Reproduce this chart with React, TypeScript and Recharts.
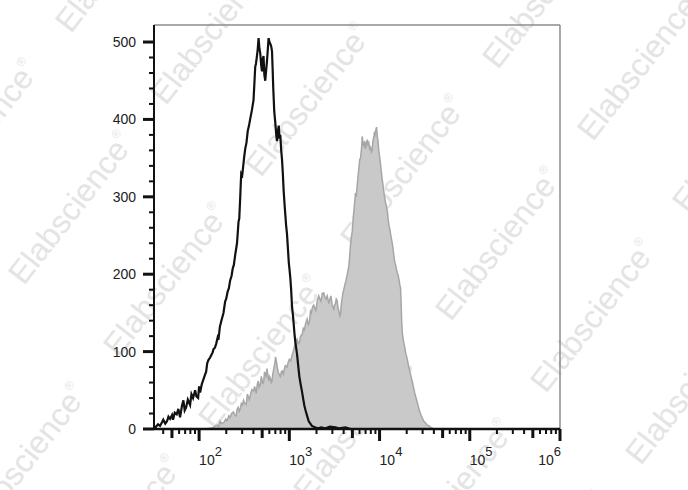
import React from 'react';
import { ComposedChart, Area, Line, XAxis, YAxis, ReferenceLine } from 'recharts';

// Isotype control (black outline): x = log10(fluorescence), y = count
const isotypeLog = [
  1.51, 1.522, 1.545, 1.567, 1.59, 1.603, 1.625, 1.644, 1.66, 1.678, 1.7, 1.711, 1.73, 1.752, 1.77, 1.789,
  1.81, 1.826, 1.84, 1.856, 1.875, 1.9, 1.915, 1.933, 1.956, 1.97, 1.989, 2.0, 2.011, 2.03, 2.048, 2.065,
  2.078, 2.09, 2.103, 2.12, 2.133, 2.15, 2.159, 2.175, 2.189, 2.205, 2.214, 2.23, 2.252, 2.27, 2.289, 2.3,
  2.317, 2.33, 2.344, 2.36, 2.372, 2.385, 2.4, 2.42, 2.437, 2.445, 2.456, 2.462, 2.467, 2.478, 2.489, 2.5,
  2.511, 2.525, 2.539, 2.553, 2.567, 2.585, 2.603, 2.612, 2.622, 2.63, 2.639, 2.649, 2.659, 2.668, 2.678,
  2.688, 2.697, 2.705, 2.714, 2.723, 2.733, 2.742, 2.752, 2.76, 2.77, 2.78, 2.789, 2.8, 2.808, 2.815, 2.822,
  2.833, 2.845, 2.855, 2.863, 2.873, 2.883, 2.892, 2.9, 2.91, 2.919, 2.928, 2.937, 2.946, 2.956, 2.965,
  2.974, 2.985, 2.994, 3.003, 3.011, 3.02, 3.03, 3.04, 3.048, 3.058, 3.067, 3.078, 3.086, 3.1, 3.111, 3.125,
  3.141, 3.155, 3.167, 3.18, 3.197, 3.215, 3.233, 3.25, 3.27, 3.29, 3.322, 3.35, 3.4, 3.45, 3.511, 3.55,
  3.622, 3.68, 3.789,
];
const isotypeCount = [
  0, 3, 6, 4, 9, 12, 7, 10, 16, 13, 18, 12, 21, 19, 26, 15,
  30, 37, 24, 28, 38, 31, 45, 40, 50, 42, 40, 55, 47, 58, 64, 70,
  74, 85, 89, 92, 95, 99, 103, 105, 110, 118, 115, 132, 142, 150, 165, 168,
  178, 182, 192, 198, 207, 212, 225, 240, 268, 272, 300, 318, 330, 328, 340, 352,
  362, 370, 385, 392, 401, 412, 425, 445, 468, 472, 480, 490, 505, 492, 485,
  470, 462, 478, 482, 458, 450, 462, 475, 488, 505, 500, 498, 494, 488, 465, 440,
  410, 395, 380, 372, 385, 392, 375, 380, 360, 348, 330, 308, 292, 276, 262,
  252, 232, 215, 205, 195, 180, 158, 147, 136, 122, 112, 103, 96, 80, 68, 58,
  48, 38, 30, 24, 17, 10, 7, 4, 3, 2, 1, 2, 1, 3, 2, 1,
  2, 0, 0,
];

// Stained sample (grey filled)
const stainedLog = [
  2.067, 2.12, 2.159, 2.18, 2.2, 2.215, 2.233, 2.25, 2.278, 2.295, 2.311, 2.33, 2.344, 2.36, 2.381, 2.395,
  2.411, 2.42, 2.433, 2.445, 2.456, 2.47, 2.478, 2.492, 2.505, 2.522, 2.535, 2.544, 2.557, 2.572, 2.585, 2.603,
  2.615, 2.633, 2.645, 2.656, 2.665, 2.678, 2.69, 2.697, 2.706, 2.717, 2.725, 2.733, 2.742, 2.752, 2.762, 2.772,
  2.78, 2.789, 2.8, 2.808, 2.818, 2.828, 2.84, 2.847, 2.856, 2.866, 2.878, 2.89, 2.9, 2.912, 2.922, 2.933,
  2.944, 2.956, 2.974, 2.987, 3.0, 3.015, 3.03, 3.043, 3.056, 3.07, 3.086, 3.098, 3.111, 3.125, 3.141, 3.155,
  3.167, 3.18, 3.197, 3.21, 3.222, 3.235, 3.244, 3.258, 3.27, 3.283, 3.294, 3.31, 3.326, 3.338, 3.35, 3.365,
  3.381, 3.395, 3.406, 3.42, 3.437, 3.45, 3.461, 3.475, 3.492, 3.5, 3.511, 3.52, 3.53, 3.54, 3.55, 3.56,
  3.567, 3.575, 3.583, 3.593, 3.603, 3.615, 3.628, 3.643, 3.659, 3.668, 3.678, 3.688, 3.697, 3.705, 3.714, 3.724,
  3.733, 3.742, 3.75, 3.76, 3.77, 3.78, 3.789, 3.8, 3.808, 3.817, 3.826, 3.835, 3.844, 3.853, 3.863, 3.872,
  3.881, 3.89, 3.9, 3.91, 3.919, 3.926, 3.933, 3.942, 3.95, 3.958, 3.967, 3.975, 3.983, 3.991, 4.0, 4.011,
  4.02, 4.03, 4.04, 4.048, 4.058, 4.067, 4.076, 4.086, 4.096, 4.106, 4.115, 4.122, 4.131, 4.141, 4.15, 4.161,
  4.17, 4.178, 4.188, 4.197, 4.207, 4.217, 4.225, 4.233, 4.24, 4.245, 4.252, 4.265, 4.278, 4.29, 4.308, 4.32,
  4.333, 4.348, 4.363, 4.376, 4.389, 4.4, 4.419, 4.432, 4.444, 4.46, 4.474, 4.49, 4.5, 4.515, 4.53, 4.55,
  4.567, 4.585, 4.603,
];
const stainedCount = [
  0, 1, 2, 4, 5, 3, 10, 7, 9, 13, 11, 17, 15, 20, 22, 18,
  17, 25, 28, 23, 26, 34, 30, 37, 33, 32, 45, 42, 38, 46, 51, 49,
  55, 46, 58, 62, 54, 57, 68, 64, 58, 62, 74, 70, 68, 78, 70, 62,
  68, 66, 60, 62, 72, 78, 85, 93, 88, 80, 73, 70, 68, 74, 75, 71,
  77, 82, 80, 86, 90, 88, 95, 100, 106, 112, 116, 110, 112, 120, 122, 130,
  128, 136, 142, 135, 138, 152, 150, 158, 160, 156, 153, 166, 172, 168, 165, 175,
  176, 170, 168, 172, 162, 168, 172, 160, 155, 160, 162, 168, 166, 156, 152, 146,
  148, 160, 167, 175, 180, 186, 192, 200, 210, 222, 238, 248, 255, 268, 280, 292,
  305, 300, 312, 325, 336, 348, 350, 362, 378, 368, 366, 372, 362, 368, 374, 368,
  370, 362, 364, 358, 360, 372, 375, 382, 380, 386, 390, 378, 372, 360, 352, 342,
  332, 322, 314, 306, 298, 292, 288, 282, 270, 262, 258, 252, 246, 240, 232, 222,
  215, 212, 206, 202, 198, 192, 186, 182, 160, 140, 124, 114, 106, 98, 90, 82,
  76, 68, 61, 54, 47, 42, 34, 28, 23, 18, 14, 10, 9, 7, 5, 4,
  2, 1, 0,
];

const yTicks = [0, 20, 40, 60, 80, 100, 120, 140, 160, 180, 200, 220, 240, 260, 280, 300, 320, 340, 360, 380, 400, 420, 440, 460, 480, 500];
const xMajorExponents = [2, 3, 4, 5, 6];
const xMinorMultipliers = [2, 3, 4, 5, 6, 7, 8, 9];
const xDomain: [number, number] = [1.5, 6];
const yDomain: [number, number] = [0, 522];

type Row = { x: number; iso: number | null; stain: number | null };
const rowMap = new Map<number, Row>();
isotypeLog.forEach((x, i) => {
  const r = rowMap.get(x) || { x, iso: null, stain: null };
  r.iso = isotypeCount[i];
  rowMap.set(x, r);
});
stainedLog.forEach((x, i) => {
  const r = rowMap.get(x) || { x, iso: null, stain: null };
  r.stain = stainedCount[i];
  rowMap.set(x, r);
});
const table: Row[] = Array.from(rowMap.values()).sort((a, b) => a.x - b.x);

const xTicks: number[] = [];
for (let d = 1; d <= 6; d++) {
  if (d >= xDomain[0] && d <= xDomain[1]) xTicks.push(d);
  if (d < 6) {
    xMinorMultipliers.forEach((m) => {
      const v = d + Math.log10(m);
      if (v >= xDomain[0] && v <= xDomain[1]) xTicks.push(v);
    });
  }
}

const FONT = '"Liberation Sans", Arial, Helvetica, sans-serif';

const XTick = (props: any) => {
  const { x, y, payload } = props;
  const v: number = payload.value;
  const isMajor = Math.abs(v - Math.round(v)) < 1e-6;
  const mult = Math.round(Math.pow(10, v - Math.floor(v)));
  const len = isMajor ? 12 : mult === 5 ? 9 : 5;
  const w = isMajor || mult === 5 ? 3 : 2;
  const exp = Math.round(v);
  const isLast = isMajor && exp === xMajorExponents[xMajorExponents.length - 1];
  return (
    <g>
      <line x1={x} y1={y} x2={x} y2={y + len} stroke="#111" strokeWidth={w} />
      {isMajor && xMajorExponents.includes(exp) && (
        <text
          x={isLast ? x + 1 : x}
          y={y + 36}
          textAnchor={isLast ? 'end' : 'start'}
          fontFamily={FONT}
          fontSize={14}
          fill="#222"
        >
          <tspan>10</tspan>
          <tspan dy={-9} fontSize={13}>{exp}</tspan>
        </text>
      )}
    </g>
  );
};

const YTick = (props: any) => {
  const { x, y, payload } = props;
  const v: number = payload.value;
  const major = v % 100 === 0;
  return (
    <g>
      <line x1={x} y1={y} x2={x - (major ? 11 : 5)} y2={y} stroke="#111" strokeWidth={major ? 3 : 2} />
      {major && (
        <text x={x - 18} y={y} dy={5} textAnchor="end" fontFamily={FONT} fontSize={14} fill="#222">
          {v}
        </text>
      )}
    </g>
  );
};

// watermark lattice (decoration)
const wmOrigin = { x: 308, y: 100 };
const wmV1 = { x: 95, y: 72 };
const wmV2 = { x: 142, y: -180 };
const wmCenters: { x: number; y: number }[] = [];
for (let i = -6; i <= 8; i++) {
  for (let j = -4; j <= 4; j++) {
    const cx = wmOrigin.x + i * wmV1.x + j * wmV2.x;
    const cy = wmOrigin.y + i * wmV1.y + j * wmV2.y;
    if (cx > -120 && cx < 810 && cy > -120 && cy < 610) wmCenters.push({ x: cx, y: cy });
  }
}

export default function App() {
  return (
    <div style={{ position: 'absolute', left: 0, top: 0, width: 688, height: 490, background: '#fff', overflow: 'hidden' }}>
      <div style={{ position: 'absolute', left: 0, top: 0, width: 688, height: 490, pointerEvents: 'none' }}>
        {wmCenters.map((c, k) => (
          <div
            key={k}
            style={{
              position: 'absolute',
              left: c.x,
              top: c.y,
              transform: 'translate(-50%, -50%) rotate(-52deg)',
              fontFamily: FONT,
              fontSize: 32,
              color: '#e4e4e4',
              whiteSpace: 'nowrap',
              lineHeight: 1,
            }}
          >
            Elabscience<span style={{ fontSize: 12, verticalAlign: 'top' }}>®</span>
          </div>
        ))}
      </div>
      <div style={{ position: 'absolute', left: 0, top: 0 }}>
        <ComposedChart
          width={688}
          height={490}
          data={table}
          margin={{ top: 25, right: 128, bottom: 21, left: 94 }}
        >
          <XAxis
            type="number"
            dataKey="x"
            domain={xDomain}
            ticks={xTicks}
            interval={0}
            allowDataOverflow
            height={40}
            tickSize={0}
            tickMargin={0}
            tickLine={false}
            tick={<XTick />}
            axisLine={{ stroke: '#111', strokeWidth: 2.5 }}
          />
          <YAxis
            type="number"
            domain={yDomain}
            ticks={yTicks}
            interval={0}
            allowDataOverflow
            width={60}
            tickSize={0}
            tickMargin={0}
            tickLine={false}
            tick={<YTick />}
            axisLine={{ stroke: '#111', strokeWidth: 2 }}
          />
          <ReferenceLine y={522} stroke="#8c8c8c" strokeWidth={1.5} />
          <ReferenceLine x={6} stroke="#8c8c8c" strokeWidth={1.5} />
          <Area
            type="linear"
            dataKey="stain"
            connectNulls
            fill="#c9c9c9"
            fillOpacity={1}
            stroke="#a6a6a6"
            strokeWidth={1.5}
            isAnimationActive={false}
            dot={false}
            activeDot={false}
          />
          <Line
            type="linear"
            dataKey="iso"
            connectNulls
            stroke="#111"
            strokeWidth={2.2}
            isAnimationActive={false}
            dot={false}
            activeDot={false}
          />
        </ComposedChart>
      </div>
    </div>
  );
}
